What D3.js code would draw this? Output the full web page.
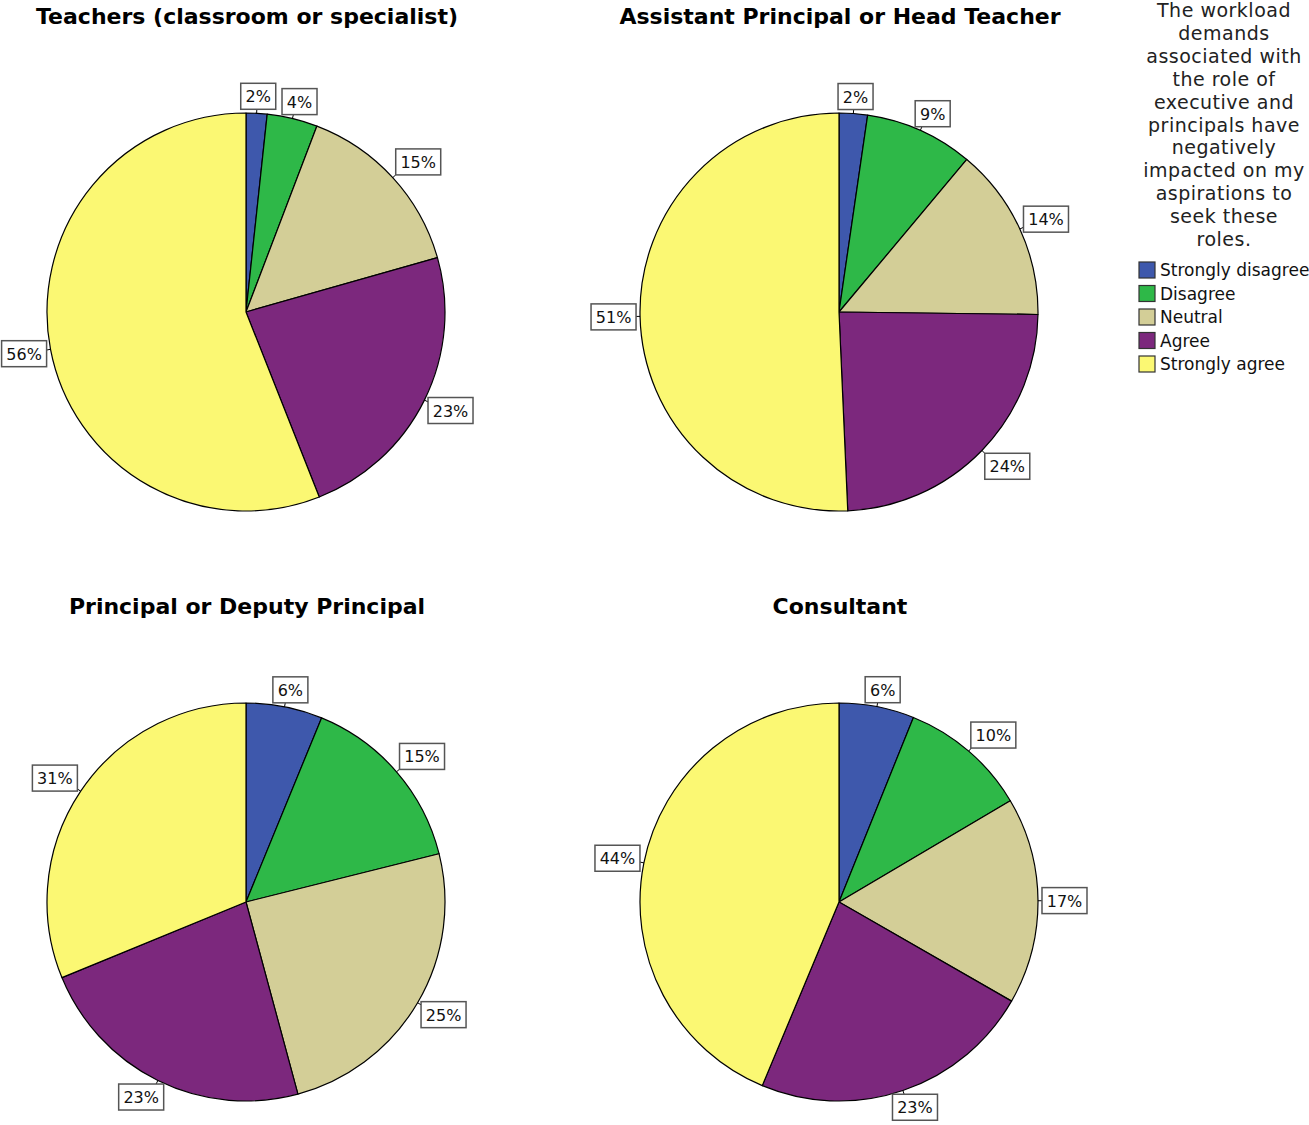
<!DOCTYPE html>
<html><head><meta charset="utf-8">
<script src="https://cdn.jsdelivr.net/npm/d3@7"></script>
<style>body{margin:0;background:#fff}svg{display:block}</style>
</head><body>
<script>
const categories = ["Strongly disagree","Disagree","Neutral","Agree","Strongly agree"];
const colors = ["#3E58AC","#2EB848","#D3CE97","#7C287D","#FBF873"];
const panelTitles = ["Teachers (classroom or specialist)","Assistant Principal or Head Teacher","Principal or Deputy Principal","Consultant"];
const teachers = [1.7, 4.1, 14.8, 23.4, 56.0];
const assistantPrincipal = [2.3, 8.8, 14.1, 24.1, 50.7];
const principal = [6.2, 14.9, 24.7, 23.0, 31.2];
const consultant = [6.1, 10.4, 16.8, 23.0, 43.7];
const legendTitle = ["The workload","demands","associated with","the role of","executive and","principals have","negatively","impacted on my","aspirations to","seek these","roles."];

const W=1309,H=1125;
const svg=d3.select("body").append("svg").attr("width",W).attr("height",H);
const font="'DejaVu Sans', Verdana, sans-serif";
const panels=[teachers,assistantPrincipal,principal,consultant];
const cx=d3.scaleOrdinal().domain([0,1]).range([246,839]);
const cy=d3.scaleOrdinal().domain([0,1]).range([312,902]);
const r=199;
const pie=d3.pie().sort(null).value(d=>d);
const arc=d3.arc().innerRadius(0).outerRadius(r);
const fmt=v=>Math.round(v)+"%";

panels.forEach((vals,i)=>{
  const col=i%2,row=Math.floor(i/2);
  const g=svg.append("g").attr("transform",`translate(${cx(col)},${cy(row)})`);
  svg.append("text").attr("x",cx(col)+1).attr("y",cy(row)-288).attr("text-anchor","middle")
    .attr("font-family",font).attr("font-weight","bold").attr("font-size",22).attr("fill","#000")
    .text(panelTitles[i]);
  const arcs=pie(vals);
  g.selectAll("path").data(arcs).join("path").attr("d",arc)
    .attr("fill",(d,j)=>colors[j]).attr("stroke","#000").attr("stroke-width",1.2).attr("stroke-linejoin","round");
  const total=d3.sum(vals);
  arcs.forEach((d,j)=>{
    const a=(d.startAngle+d.endAngle)/2;
    const s=Math.sin(a),c=Math.cos(a);
    const ex=s*(r),ey=-c*(r);
    const ax=s*(r+4),ay=-c*(r+4);
    const txt=fmt(vals[j]/total*100);
    const w=txt.length>2?45:35,h=26;
    const clamp=v=>Math.max(-1,Math.min(1,v));
    const ox=w/2*clamp(s*1.5), oy=-h/2*clamp(c*1.5);
    const bx=ax+ox, by=ay+oy;
    g.append("line").attr("x1",ex).attr("y1",ey).attr("x2",ax).attr("y2",ay).attr("stroke","#000").attr("stroke-width",1);
    g.append("rect").attr("x",bx-w/2).attr("y",by-h/2).attr("width",w).attr("height",h)
      .attr("fill","#fff").attr("stroke","#555").attr("stroke-width",1.5);
    g.append("text").attr("x",bx).attr("y",by+6).attr("text-anchor","middle")
      .attr("font-family",font).attr("font-size",16).attr("fill","#111").text(txt);
  });
});

// legend
const lg=svg.append("g");
lg.selectAll("text.t").data(legendTitle).join("text").attr("class","t")
  .attr("x",1224).attr("y",(d,i)=>17+i*22.9).attr("text-anchor","middle")
  .attr("font-family",font).attr("font-size",19).attr("letter-spacing",0.5).attr("fill","#222").text(d=>d);
const items=lg.selectAll("g.item").data(categories).join("g").attr("class","item")
  .attr("transform",(d,i)=>`translate(1139,${262+i*23.5})`);
items.append("rect").attr("width",16).attr("height",16).attr("fill",(d,i)=>colors[i]).attr("stroke","#333").attr("stroke-width",1.2);
items.append("text").attr("x",21).attr("y",14).attr("font-family",font).attr("font-size",17).attr("fill","#111").text(d=>d);
</script>
</body></html>
